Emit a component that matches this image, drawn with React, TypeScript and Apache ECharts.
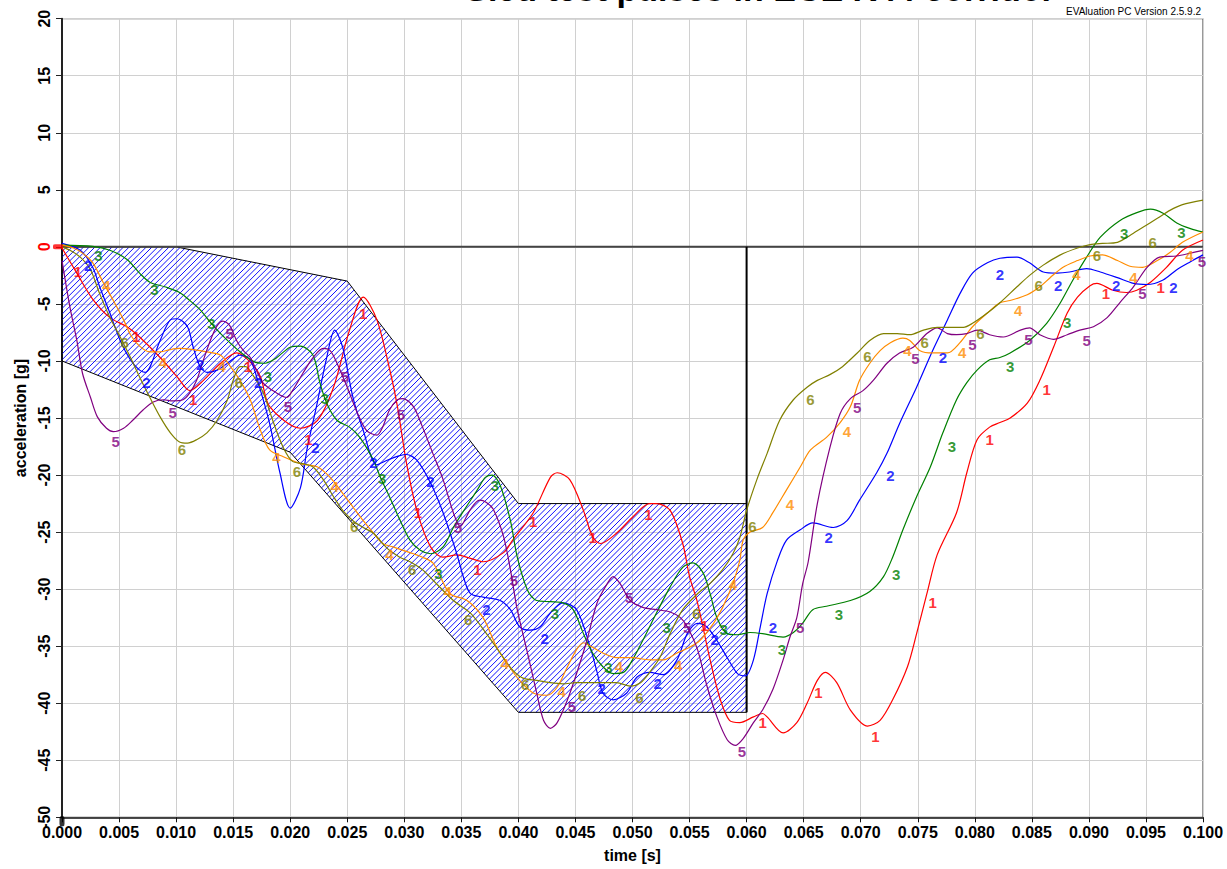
import React, { useEffect, useRef } from "react";
import * as echarts from "echarts";

// ---------- data (time in ms, acceleration in g) ----------
const X_TICKS_MS = { min: 0, max: 100, step: 5 };
const Y_TICKS_G = { min: -50, max: 20, step: 5 };

const CORRIDOR: [number, number][] = [
  [0, 0], [10, 0], [25, -3], [40, -22.5], [60, -22.5],
  [60, -40.8], [40, -40.8], [20, -18], [0, -10],
];
const CORRIDOR_EDGE: [number, number][] = [[60, 0], [60, -40.8]];
const ZERO_LINE: [number, number][] = [[0, 0], [100, 0]];

const C1: [number, number][] = [[0,-0.1],[1.3,-2.3],[2.7,-4.6],[4.2,-6.2],[5.7,-7.0],[6.8,-7.9],[8.6,-9.7],[10.1,-11.4],[11.2,-12.6],[12.4,-11.7],[13.9,-10.2],[15.3,-9.3],[16.5,-10.1],[17.4,-11.4],[18.2,-14.0],[20.9,-15.9],[22.4,-15.2],[23.8,-12.3],[25.2,-7.3],[26.4,-4.4],[27.6,-6.4],[28.8,-11.1],[29.4,-14.0],[30.2,-19.0],[31.1,-23.1],[32.3,-26.3],[33.4,-27.2],[34.6,-27.0],[35.8,-27.3],[36.9,-27.6],[38.7,-26.8],[39.5,-25.7],[41.3,-23.3],[42.8,-20.2],[43.4,-19.8],[44.5,-20.4],[45.7,-23.1],[46.5,-25.4],[47.2,-26.0],[48.6,-25.1],[50.0,-23.7],[51.5,-22.5],[52.1,-22.5],[53.3,-23.1],[54.4,-26.0],[55.0,-28.9],[55.7,-31.2],[56.8,-36.2],[57.7,-39.7],[58.5,-41.5],[59.4,-41.7],[60.6,-41.2],[61.4,-40.9],[61.8,-41.2],[63.2,-42.6],[64.4,-41.7],[65.3,-40.0],[66.2,-38.0],[66.9,-37.3],[67.9,-38.2],[69.1,-40.6],[70.6,-42.0],[71.7,-41.5],[72.8,-39.7],[74.1,-36.8],[74.9,-33.9],[75.8,-30.4],[76.7,-27.0],[78.4,-23.3],[79.3,-19.8],[80.2,-16.9],[81.3,-15.8],[82.2,-15.4],[83.1,-15.0],[84.6,-13.7],[85.7,-11.7],[86.9,-8.8],[88.1,-5.8],[89.0,-4.4],[90.1,-3.4],[90.7,-3.2],[92.1,-3.8],[93.3,-4.0],[94.2,-3.8],[95.4,-3.1],[96.8,-1.8],[98.2,-0.3],[100,0.6]];
const C2: [number, number][] = [[0,0.3],[1.6,-0.3],[2.7,-1.8],[3.3,-3.5],[4.2,-5.8],[5.1,-8.2],[6.0,-9.9],[6.8,-10.8],[7.3,-11.0],[8.6,-8.2],[9.5,-6.4],[10.1,-6.3],[11.0,-7.0],[11.5,-8.8],[12.1,-10.5],[12.7,-11.0],[13.6,-10.8],[14.5,-10.2],[15.6,-9.5],[16.5,-9.9],[17.4,-12.6],[18.2,-15.5],[19.1,-19.8],[20.0,-22.9],[20.9,-21.1],[21.5,-17.6],[22.3,-14.0],[23.2,-9.7],[23.9,-7.3],[24.6,-8.8],[25.5,-13.2],[26.4,-16.1],[27.6,-19.1],[28.5,-18.7],[29.6,-18.3],[30.2,-18.2],[31.1,-18.7],[32.3,-20.7],[33.4,-23.3],[34.6,-26.9],[35.2,-29.0],[35.8,-30.4],[36.9,-30.7],[38.4,-31.0],[39.3,-31.8],[40.1,-33.3],[41.0,-33.6],[41.9,-33.3],[42.8,-32.1],[43.9,-31.2],[45.1,-31.8],[46.3,-35.1],[46.9,-37.3],[47.4,-39.1],[48.3,-39.7],[49.5,-39.1],[50.4,-37.7],[51.5,-37.3],[52.7,-37.5],[53.9,-36.2],[54.8,-33.9],[55.7,-33.0],[56.5,-33.3],[57.4,-34.5],[58.3,-36.0],[59.2,-37.4],[59.9,-37.6],[60.6,-36.2],[61.2,-33.3],[61.8,-30.4],[62.7,-27.5],[63.5,-25.7],[64.7,-24.8],[65.8,-24.2],[67.6,-24.6],[68.8,-24.0],[69.9,-22.2],[71.4,-19.8],[72.3,-18.1],[73.4,-15.5],[74.9,-12.3],[76.3,-9.1],[77.6,-6.4],[78.7,-4.1],[79.8,-2.3],[81.1,-1.4],[82.2,-1.0],[83.7,-0.9],[84.8,-1.4],[86.0,-2.2],[87.2,-2.3],[88.3,-2.2],[89.8,-1.9],[91.0,-2.2],[92.5,-2.7],[93.9,-3.2],[95.1,-3.3],[96.5,-2.9],[97.7,-2.0],[98.9,-1.3],[100,-0.7]];
const C3: [number, number][] = [[0,0.15],[2.7,0.05],[4.2,-0.3],[5.7,-1.1],[6.8,-2.3],[7.7,-3.1],[9.0,-3.5],[10.3,-4.0],[11.2,-4.7],[12.1,-5.5],[13.0,-6.6],[13.9,-7.6],[15.6,-9.2],[16.9,-10.1],[17.8,-10.2],[18.7,-9.8],[20.0,-8.8],[20.9,-8.7],[22.0,-9.5],[22.6,-11.9],[23.2,-13.7],[24.1,-15.2],[25.2,-15.8],[26.1,-16.7],[27.3,-18.7],[27.9,-20.2],[28.7,-21.9],[29.6,-23.9],[30.5,-25.7],[31.4,-26.6],[32.3,-26.9],[33.4,-26.3],[34.3,-24.6],[35.1,-23.3],[36.4,-21.3],[37.1,-20.2],[37.7,-20.0],[38.4,-20.9],[39.3,-24.0],[39.9,-27.2],[40.8,-30.1],[41.6,-31.0],[42.8,-31.1],[43.9,-31.2],[44.8,-31.8],[45.7,-33.9],[46.5,-35.6],[47.4,-36.8],[48.3,-37.4],[49.2,-37.3],[50.0,-36.2],[50.9,-34.5],[52.1,-32.1],[53.3,-29.8],[54.4,-28.1],[55.3,-27.7],[56.2,-28.6],[56.8,-30.4],[57.4,-32.5],[58.3,-33.9],[59.2,-34.0],[60.3,-33.8],[61.4,-33.9],[63.2,-34.2],[64.1,-33.8],[64.9,-33.0],[65.8,-31.8],[67.0,-31.5],[69.1,-31.0],[70.8,-30.2],[72.0,-28.9],[72.8,-27.2],[73.7,-24.8],[74.9,-21.9],[76.1,-19.3],[77.2,-16.3],[78.4,-13.4],[79.3,-11.9],[80.2,-10.8],[81.3,-9.9],[82.2,-9.7],[83.1,-9.3],[84.8,-8.2],[86.3,-6.7],[87.5,-4.9],[88.6,-2.9],[89.8,-0.9],[91.0,0.85],[92.7,2.3],[94.2,3.0],[95.4,3.3],[96.5,2.95],[97.7,2.1],[98.9,1.6],[100,1.3]];
const C4: [number, number][] = [[0,0.15],[1.0,-0.1],[1.8,-0.55],[2.7,-1.4],[3.6,-3.1],[4.5,-4.7],[5.4,-6.4],[6.0,-7.7],[6.8,-8.7],[7.7,-9.2],[8.6,-9.2],[9.5,-9.0],[10.3,-8.9],[11.5,-9.0],[12.7,-9.2],[13.9,-9.5],[14.7,-10.4],[15.6,-11.7],[16.5,-13.4],[17.4,-16.1],[18.2,-17.8],[19.4,-18.4],[20.9,-19.0],[22.4,-19.3],[23.5,-20.2],[24.6,-21.6],[25.5,-22.8],[26.4,-24.0],[27.3,-25.1],[28.1,-26.0],[29.0,-26.3],[29.9,-26.6],[30.8,-26.9],[31.6,-27.2],[32.5,-27.7],[33.1,-28.8],[34.0,-30.4],[35.5,-31.0],[36.9,-32.5],[38.1,-35.1],[39.0,-36.5],[40.1,-38.0],[41.3,-39.1],[42.5,-39.3],[43.4,-38.6],[44.3,-36.8],[45.1,-35.3],[45.7,-34.7],[46.5,-35.1],[47.4,-35.6],[48.6,-36.0],[50.0,-36.0],[51.5,-36.2],[52.7,-36.2],[53.9,-35.6],[55.0,-35.1],[55.9,-34.5],[57.1,-33.0],[57.9,-31.6],[58.8,-29.5],[59.4,-27.5],[59.7,-25.7],[60.3,-25.0],[61.4,-24.6],[62.3,-23.3],[63.5,-21.3],[64.7,-19.3],[65.6,-17.8],[67.0,-16.7],[68.2,-15.4],[69.1,-14.0],[69.9,-11.7],[70.8,-10.2],[71.7,-9.1],[72.6,-8.4],[73.7,-8.0],[74.3,-8.2],[75.2,-9.1],[76.3,-9.3],[77.6,-9.3],[78.7,-8.4],[79.8,-7.0],[81.1,-5.8],[82.2,-4.9],[83.1,-4.7],[84.6,-4.2],[85.7,-3.5],[86.6,-2.7],[87.7,-1.8],[89.0,-1.2],[90.1,-0.8],[91.2,-0.7],[92.5,-1.2],[93.6,-1.7],[94.7,-1.8],[96.0,-1.2],[97.1,-0.5],[98.2,0.4],[100,1.3]];
const C5: [number, number][] = [[0,-1.2],[0.7,-5.3],[1.3,-8.2],[1.8,-11.1],[2.5,-13.2],[3.1,-14.9],[3.9,-15.9],[4.5,-16.2],[5.4,-15.9],[6.2,-15.2],[7.1,-14.3],[8.0,-13.6],[8.9,-13.4],[9.7,-13.5],[10.6,-13.4],[11.2,-12.8],[11.8,-11.7],[12.4,-9.9],[13.0,-8.2],[13.6,-6.9],[14.1,-6.5],[14.7,-6.9],[15.3,-8.2],[15.9,-9.1],[16.5,-9.7],[17.6,-11.9],[18.8,-12.8],[19.7,-13.2],[20.2,-12.6],[21.1,-11.1],[22.0,-9.7],[22.9,-8.9],[23.5,-9.1],[24.1,-10.2],[25.0,-12.3],[25.9,-14.6],[26.7,-16.1],[27.6,-16.5],[28.1,-15.8],[28.7,-14.3],[29.4,-13.4],[29.9,-13.3],[30.8,-14.0],[31.6,-15.8],[32.5,-18.1],[33.4,-20.4],[34.3,-23.3],[34.9,-24.5],[35.8,-23.0],[36.6,-22.2],[37.2,-22.4],[37.8,-23.0],[38.7,-25.4],[39.3,-28.3],[39.9,-31.8],[40.8,-35.6],[41.6,-39.1],[42.2,-41.5],[42.8,-42.2],[43.4,-41.7],[44.3,-39.7],[45.1,-37.4],[46.0,-34.5],[46.9,-31.2],[47.8,-29.5],[48.3,-28.9],[48.9,-29.5],[49.8,-31.0],[50.9,-31.6],[52.1,-31.8],[53.3,-32.0],[54.2,-32.5],[54.8,-33.3],[55.7,-35.3],[56.5,-38.4],[57.4,-41.2],[58.3,-43.2],[59.0,-43.7],[59.7,-43.1],[60.6,-41.7],[61.4,-40.6],[62.3,-38.8],[63.2,-36.2],[63.8,-34.2],[64.4,-32.5],[64.9,-29.6],[65.4,-27.6],[66.2,-22.5],[67.3,-17.6],[68.2,-14.6],[69.1,-13.3],[70.2,-12.6],[71.1,-11.7],[72.3,-10.2],[73.4,-9.3],[74.6,-8.8],[75.8,-7.6],[76.7,-7.1],[77.6,-7.6],[78.4,-7.7],[79.3,-7.6],[80.2,-7.3],[81.3,-7.7],[82.5,-7.9],[84.0,-7.3],[84.8,-7.1],[85.7,-7.7],[86.9,-8.1],[88.1,-7.7],[89.2,-7.3],[90.4,-7.0],[91.6,-6.2],[92.7,-4.9],[93.9,-3.5],[95.1,-1.8],[96.2,-0.9],[97.7,-0.8],[98.9,-0.55],[100,-0.3]];
const C6: [number, number][] = [[0,0],[0.7,-0.3],[1.6,-0.9],[2.5,-2.0],[3.3,-4.1],[4.2,-6.2],[5.1,-7.9],[6.0,-9.7],[6.8,-11.4],[7.7,-13.2],[8.6,-14.9],[9.5,-16.3],[10.3,-17.1],[11.0,-17.2],[11.8,-16.9],[12.7,-16.3],[13.6,-15.2],[14.5,-13.4],[15.0,-11.7],[15.6,-10.5],[16.1,-10.5],[16.7,-11.2],[17.6,-12.7],[18.5,-15.3],[19.4,-17.6],[20.2,-18.8],[21.1,-19.0],[22.0,-19.3],[22.9,-20.4],[23.8,-21.9],[24.6,-23.1],[25.5,-24.0],[26.4,-24.6],[27.3,-25.1],[28.1,-26.0],[28.7,-26.6],[29.6,-27.2],[30.5,-27.6],[31.6,-28.3],[32.5,-29.2],[34.3,-31.0],[35.8,-32.1],[37.2,-33.9],[38.4,-35.6],[39.5,-37.1],[40.4,-37.8],[41.6,-38.0],[42.8,-38.2],[43.9,-38.3],[45.1,-38.2],[46.3,-38.2],[47.4,-38.2],[48.6,-38.2],[49.8,-38.5],[50.7,-38.2],[51.5,-37.3],[52.4,-36.0],[53.3,-33.9],[54.4,-31.8],[55.7,-30.4],[56.8,-29.5],[57.9,-28.3],[58.8,-26.9],[59.4,-25.5],[60.0,-23.1],[60.9,-20.4],[61.8,-18.1],[62.9,-15.2],[64.1,-13.4],[65.3,-12.3],[66.2,-11.7],[67.3,-11.2],[68.4,-10.5],[69.7,-9.3],[70.8,-8.2],[72.0,-7.6],[73.2,-7.6],[74.3,-7.7],[75.5,-7.3],[76.7,-7.05],[77.8,-7.05],[79.0,-7.05],[79.8,-6.7],[81.1,-5.8],[82.2,-4.9],[83.7,-3.5],[84.8,-2.5],[86.0,-1.6],[87.5,-0.7],[89.0,-0.1],[90.1,0.2],[91.2,0.3],[92.5,0.4],[93.6,1.0],[94.7,1.7],[96.0,2.5],[97.1,3.2],[98.2,3.7],[100,4.1]];

const L1: [number, number][] = [[1.4,-2.2],[6.5,-7.9],[11.5,-13.4],[16.3,-10.5],[21.6,-16.9],[26.4,-5.8],[31.2,-23.3],[36.4,-28.3],[41.3,-24.1],[46.5,-25.5],[51.4,-23.5],[56.3,-33.2],[61.4,-41.7],[66.3,-39.1],[71.3,-42.9],[76.3,-31.2],[81.3,-16.9],[86.3,-12.5],[91.5,-4.1],[96.3,-3.6]];
const L2: [number, number][] = [[2.3,-1.6],[7.4,-11.9],[12.1,-10.3],[17.2,-11.9],[22.2,-17.6],[27.3,-18.9],[32.3,-20.6],[37.2,-31.8],[42.3,-34.3],[47.3,-38.7],[52.2,-38.3],[57.2,-34.4],[62.3,-33.4],[67.2,-25.5],[72.6,-20.0],[77.2,-9.7],[82.2,-2.4],[87.3,-3.35],[92.4,-3.35],[97.4,-3.6]];
const L3: [number, number][] = [[3.2,-0.8],[8.1,-3.7],[13.1,-6.7],[18.05,-11.4],[23.05,-13.3],[28.05,-20.3],[33.0,-28.6],[37.95,-20.9],[43.2,-32.1],[47.9,-36.9],[53.0,-33.4],[58.0,-33.5],[63.1,-35.3],[68.1,-32.2],[73.1,-28.7],[78.0,-17.5],[83.1,-10.5],[88.1,-6.6],[93.1,1.2],[98.1,1.3]];
const L4: [number, number][] = [[3.9,-3.4],[8.85,-10.1],[14.0,-10.5],[18.8,-18.5],[23.9,-21.0],[28.7,-27.0],[33.8,-30.2],[38.8,-36.5],[43.8,-39.0],[48.8,-36.8],[54.0,-36.7],[58.8,-29.6],[63.8,-22.6],[68.8,-16.2],[74.1,-9.1],[78.9,-9.3],[83.8,-5.6],[88.9,-2.4],[93.9,-2.7],[98.8,-0.8]];
const L5: [number, number][] = [[4.7,-17.1],[9.7,-14.5],[14.7,-7.6],[19.8,-14.0],[24.8,-11.4],[29.7,-14.7],[34.7,-24.6],[39.6,-29.2],[44.7,-40.3],[49.7,-30.7],[54.8,-33.4],[59.6,-44.2],[64.7,-33.4],[69.7,-14.1],[74.8,-9.75],[79.8,-8.6],[84.7,-8.1],[89.8,-8.2],[94.7,-4.1],[99.9,-1.3]];
const L6: [number, number][] = [[5.5,-8.35],[10.5,-17.8],[15.5,-11.9],[20.6,-19.7],[25.6,-24.5],[30.7,-28.3],[35.6,-32.7],[40.6,-38.4],[45.6,-39.3],[50.6,-39.5],[55.6,-32.1],[60.5,-24.5],[65.6,-13.4],[70.6,-9.6],[75.6,-8.4],[80.5,-7.56],[85.6,-3.4],[90.7,-0.8],[95.6,0.4]];

const SERIES_NAMES = ["1", "2", "3", "4", "5", "6"];
const CURVES = [C1, C2, C3, C4, C5, C6];
const LABELS = [L1, L2, L3, L4, L5, L6];
const COLORS = ["#ff0000", "#0000ff", "#008000", "#ff8c00", "#800080", "#808000"];

const TITLE = "Sled test pulses in ECE R44 corridor";
const VERSION = "EVAluation PC Version 2.5.9.2";
const X_NAME = "time [s]";
const Y_NAME = "acceleration [g]";

const FONT = "'Liberation Sans', Arial, Helvetica, sans-serif";
const HATCH_STEP = 5.7;

export default function App() {
  const ref = useRef<HTMLDivElement>(null);
  useEffect(() => {
    if (!ref.current) return;
    const chart = echarts.init(ref.current, undefined, { renderer: "svg" });

    const hatch = {
      type: "custom",
      coordinateSystem: "cartesian2d",
      silent: true,
      z: 1,
      data: [[0, 0]],
      renderItem: (_params: any, api: any) => {
        const pts = CORRIDOR.map((p) => api.coord(p));
        let minC = Infinity, maxC = -Infinity;
        pts.forEach((p: number[]) => {
          minC = Math.min(minC, p[0] + p[1]);
          maxC = Math.max(maxC, p[0] + p[1]);
        });
        const children: any[] = [];
        for (let c = Math.ceil(minC / HATCH_STEP) * HATCH_STEP; c <= maxC; c += HATCH_STEP) {
          const xs: number[] = [];
          for (let i = 0; i < pts.length; i++) {
            const a = pts[i], b = pts[(i + 1) % pts.length];
            const fa = a[0] + a[1] - c, fb = b[0] + b[1] - c;
            if ((fa < 0) !== (fb < 0)) {
              const k = fa / (fa - fb);
              xs.push(a[0] + k * (b[0] - a[0]));
            }
          }
          xs.sort((m, n) => m - n);
          for (let j = 0; j + 1 < xs.length; j += 2) {
            children.push({
              type: "line",
              shape: { x1: xs[j], y1: c - xs[j], x2: xs[j + 1], y2: c - xs[j + 1] },
              style: { stroke: "#1010ff", lineWidth: 1 },
            });
          }
        }
        children.push({
          type: "polygon",
          shape: { points: pts },
          style: { fill: "transparent", stroke: "#000", lineWidth: 1 },
        });
        return { type: "group", children };
      },
    };

    const lineSeries = CURVES.map((d, i) => ({
      type: "line",
      name: SERIES_NAMES[i],
      data: d,
      smooth: 0.3,
      symbol: "none",
      z: 3,
      silent: true,
      lineStyle: { color: COLORS[i], width: 1.2 },
    }));

    const labelSeries = LABELS.map((d, i) => ({
      type: "scatter",
      name: "lbl" + SERIES_NAMES[i],
      data: d,
      symbolSize: 1,
      z: 5,
      silent: true,
      clip: false,
      itemStyle: { color: "rgba(0,0,0,0)" },
      label: {
        show: true,
        position: "inside",
        formatter: SERIES_NAMES[i],
        color: COLORS[i],
        fontWeight: "bold",
        fontSize: 15,
        fontFamily: FONT,
      },
    }));

    const option: any = {
      animation: false,
      backgroundColor: "#ffffff",
      grid: {
        left: 62, right: 24, top: 18.7, bottom: 51.7,
        show: true, borderColor: "#333", borderWidth: 1, backgroundColor: "#fff",
      },
      xAxis: {
        type: "value",
        min: X_TICKS_MS.min, max: X_TICKS_MS.max, interval: X_TICKS_MS.step,
        name: X_NAME, nameLocation: "middle", nameGap: 30,
        nameTextStyle: { fontWeight: "bold", fontSize: 16, color: "#000", fontFamily: FONT },
        axisLine: { show: true, onZero: false, lineStyle: { color: "#111", width: 1.5 } },
        axisTick: { show: true, length: 5, lineStyle: { color: "#111" } },
        axisLabel: {
          formatter: (v: number) => (v / 1000).toFixed(3),
          fontWeight: "bold", fontSize: 16, color: "#000", fontFamily: FONT, margin: 7,
          showMinLabel: true, showMaxLabel: true,
        },
        splitLine: { show: true, lineStyle: { color: "#d0d0d0", width: 1 } },
      },
      yAxis: {
        type: "value",
        min: Y_TICKS_G.min, max: Y_TICKS_G.max, interval: Y_TICKS_G.step,
        name: Y_NAME, nameLocation: "middle", nameGap: 33,
        nameTextStyle: { fontWeight: "bold", fontSize: 16, color: "#000", fontFamily: FONT },
        axisLine: { show: true, onZero: false, lineStyle: { color: "#222", width: 2 } },
        axisTick: { show: true, length: 6, lineStyle: { color: "#222" } },
        axisLabel: {
          rotate: 90,
          margin: 10,
          formatter: (v: number) => (v === 0 ? "{r|0}" : "{k|" + v + "}"),
          rich: {
            r: { color: "#ff0000", fontWeight: "bold", fontSize: 16, fontFamily: FONT },
            k: { color: "#000", fontWeight: "bold", fontSize: 16, fontFamily: FONT },
          },
          showMinLabel: true, showMaxLabel: true,
        },
        splitLine: { show: true, lineStyle: { color: "#d0d0d0", width: 1 } },
      },
      graphic: [
        {
          type: "text", x: 760, y: -11, silent: true,
          style: {
            text: TITLE, fill: "#000", font: "bold 34px " + FONT,
            align: "center", verticalAlign: "middle",
          },
        },
        {
          type: "text", x: 1201, y: 11.5, silent: true,
          style: {
            text: VERSION, fill: "#000", font: "10px " + FONT,
            align: "right", verticalAlign: "middle",
          },
        },
      ],
      series: [
        hatch,
        {
          type: "line", data: ZERO_LINE, symbol: "none", z: 2, silent: true,
          lineStyle: { color: "#444", width: 2 },
        },
        {
          type: "line", data: CORRIDOR_EDGE, symbol: "none", z: 2, silent: true,
          lineStyle: { color: "#000", width: 2 },
        },
        ...lineSeries,
        ...labelSeries,
        {
          type: "scatter", data: [[0, 0]], symbol: "roundRect", symbolSize: [10, 5],
          symbolOffset: [-4, 0], clip: false, z: 6, silent: true,
          itemStyle: { color: "#ff0000" },
        },
        {
          type: "scatter", data: [[0, -50]], symbol: "roundRect", symbolSize: [5, 10],
          symbolOffset: [0, 4], clip: false, z: 6, silent: true,
          itemStyle: { color: "#000" },
        },
      ],
    };
    chart.setOption(option);
    return () => chart.dispose();
  }, []);

  return (
    <div
      ref={ref}
      style={{ position: "fixed", left: 0, top: 0, width: 1227, height: 869, background: "#fff" }}
    />
  );
}
